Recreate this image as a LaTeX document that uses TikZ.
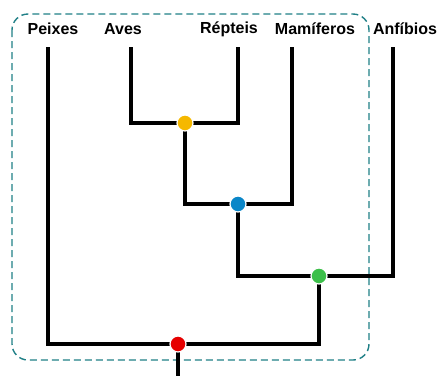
\documentclass[tikz,border=0pt]{standalone}
\usepackage{fontspec}
\setmainfont{Liberation Sans}
\usetikzlibrary{backgrounds}
\definecolor{boxteal}{HTML}{1F7F86}
\definecolor{cyel}{HTML}{F5B800}
\definecolor{cblue}{HTML}{0A86C8}
\definecolor{cgreen}{HTML}{3CBF4A}
\definecolor{cred}{HTML}{E60000}
\tikzset{
  lab/.style={font=\fontsize{16}{18}\selectfont\bfseries, inner sep=0pt, anchor=center},
  br/.style={line width=3.2pt, black},
  dotnode/.style={circle, minimum size=16pt, inner sep=0pt, draw=white, line width=1.2pt},
  cladebox/.style={draw=boxteal, line width=1.4pt, dash pattern=on 7pt off 4pt, rounded corners=16pt}
}
\begin{document}
\begin{tikzpicture}[x=1pt,y=-1pt]
\useasboundingbox (0,0) rectangle (437,376);
% labels
\node[lab] (peixes) at (53,29) {Peixes};
\node[lab] (aves) at (123,29) {Aves};
\node[lab] (repteis) at (229,29) {Répteis};
\node[lab] (mamiferos) at (315,29) {Mamíferos};
\node[lab] (anfibios) at (405,29) {Anfíbios};
% tips
\coordinate (tP) at (48,47);
\coordinate (tA) at (131,47);
\coordinate (tR) at (238,47);
\coordinate (tM) at (292,47);
\coordinate (tF) at (393,47);
\coordinate (root) at (178,376);
% internal nodes
\node[dotnode, fill=cyel] (ny) at (185,123) {};
\node[dotnode, fill=cblue] (nb) at (238,204) {};
\node[dotnode, fill=cgreen] (ng) at (319,276) {};
\node[dotnode, fill=cred] (nr) at (178,344) {};
\begin{scope}[on background layer]
\draw[cladebox] (12,14) rectangle (369,360);
\draw[br] (tA) |- (ny.center);
\draw[br] (tR) |- (ny.center);
\draw[br] (ny.center) |- (nb.center);
\draw[br] (tM) |- (nb.center);
\draw[br] (nb.center) |- (ng.center);
\draw[br] (tF) |- (ng.center);
\draw[br] (ng.center) |- (nr.center);
\draw[br] (tP) |- (nr.center);
\draw[br] (nr.center) -- (root);
\end{scope}
\end{tikzpicture}
\end{document}
